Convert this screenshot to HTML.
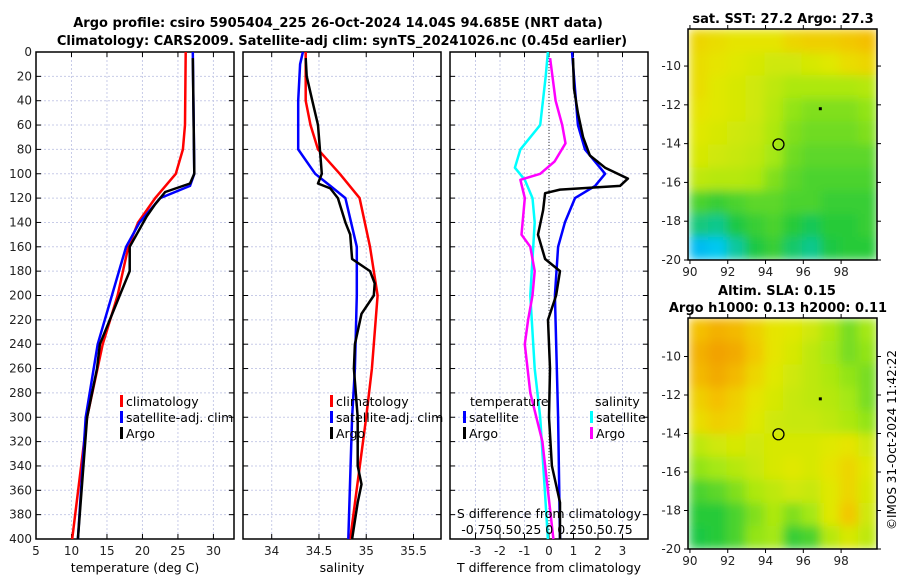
<!DOCTYPE html>
<html><head><meta charset="utf-8"><style>
html,body{margin:0;padding:0;background:#fff;}
svg{display:block;font-family:"DejaVu Sans","Liberation Sans",sans-serif;}
</style></head><body>
<svg id="c" width="900" height="580" viewBox="0 0 900 580" xmlns="http://www.w3.org/2000/svg">
<defs>
<filter id="blur" x="-5%" y="-5%" width="110%" height="110%"><feGaussianBlur stdDeviation="5" edgeMode="duplicate"/></filter>
<clipPath id="clip1"><rect x="688" y="29" width="189" height="231"/></clipPath>
<clipPath id="clip2"><rect x="688" y="318" width="189" height="231"/></clipPath>
</defs>
<text x="338" y="27" text-anchor="middle" font-size="13" font-weight="bold">Argo profile: csiro 5905404_225 26-Oct-2024 14.04S 94.685E (NRT data)</text>
<text x="342" y="45" text-anchor="middle" font-size="13" font-weight="bold">Climatology: CARS2009. Satellite-adj clim: synTS_20241026.nc (0.45d earlier)</text>
<text x="783" y="23" text-anchor="middle" font-size="13" font-weight="bold">sat. SST: 27.2 Argo: 27.3</text>
<text x="777" y="295" text-anchor="middle" font-size="13" font-weight="bold">Altim. SLA: 0.15</text>
<text x="778" y="312" text-anchor="middle" font-size="13" font-weight="bold">Argo h1000: 0.13 h2000: 0.11</text>
<text transform="translate(896,440) rotate(-90)" text-anchor="middle" font-size="12">©IMOS 31-Oct-2024 11:42:22</text>
<g id="g"></g>
</svg>
<script>
// ---------- data ----------
const depthTicks=[0,20,40,60,80,100,120,140,160,180,200,220,240,260,280,300,320,340,360,380,400];
const tTicks=[5,10,15,20,25,30];
const sTicks=[34,34.5,35,35.5];
const dTicks=[-3,-2,-1,0,1,2,3];
const climTdepth=[0,60,80,100,120,140,160,200,240,300,400];
const climT=[26.1,26.0,25.7,24.7,21.8,19.4,18.0,16.5,14.4,12.2,10.1];
const satTdepth=[0,100,110,120,140,160,200,240,300,400];
const satT=[27.1,27.3,26.7,22.5,19.6,17.7,15.7,13.7,12.0,10.9];
const argoTdepth=[5,100,108,115,125,135,160,180,200,240,260,300,400];
const argoT=[27.1,27.3,26.7,23.2,21.8,20.6,18.2,18.2,16.8,14.0,13.6,12.2,10.9];
const climSdepth=[0,40,60,80,100,120,160,200,260,300,400];
const climS=[34.36,34.36,34.41,34.49,34.72,34.93,35.04,35.12,35.06,35.00,34.83];
const satSdepth=[0,10,40,80,100,110,120,160,200,260,300,400];
const satS=[34.33,34.30,34.28,34.28,34.46,34.62,34.78,34.90,34.90,34.88,34.85,34.81];
const argoSdepth=[5,20,40,60,80,100,108,112,120,140,150,170,180,190,200,215,240,260,300,340,355,370,400];
const argoS=[34.36,34.37,34.43,34.49,34.51,34.53,34.49,34.62,34.70,34.78,34.83,34.85,35.04,35.09,35.08,34.95,34.88,34.87,34.91,34.91,34.95,34.91,34.85];
const satdTdepth=[0,60,80,100,110,120,140,160,200,300,400];
const satdT=[0.94,1.18,1.47,2.29,1.88,1.06,0.65,0.37,0.24,0.37,0.45];
const argodTdepth=[5,30,50,70,85,95,104,110,113,116,130,150,170,180,200,220,260,300,340,370,400];
const argodT=[0.98,1.02,1.18,1.39,1.67,2.29,3.22,2.9,0.45,-0.16,-0.24,-0.45,-0.16,0.45,0.29,-0.04,0.04,0,0.12,0.45,0.45];
const satdSdepth=[0,20,60,80,95,105,120,140,200,260,300,400];
const satdS=[-0.01,-0.03,-0.08,-0.26,-0.31,-0.22,-0.15,-0.13,-0.17,-0.13,-0.08,-0.01];
const argodSdepth=[5,40,60,75,90,100,105,120,150,160,180,200,220,240,280,320,360,400];
const argodS=[0.01,0.06,0.12,0.15,0.05,-0.08,-0.26,-0.22,-0.25,-0.17,-0.13,-0.15,-0.19,-0.22,-0.17,-0.06,-0.01,0.04];
const lonTicks=[90,92,94,96,98];
const lat1Ticks=[-10,-12,-14,-16,-18,-20];
const sstGrid=[
[.80,.78,.76,.76,.76,.80,.82,.82,.84,.86],
[.78,.76,.74,.72,.70,.70,.72,.74,.78,.80],
[.78,.74,.72,.70,.66,.62,.62,.62,.62,.64],
[.76,.74,.72,.70,.64,.58,.56,.56,.56,.58],
[.74,.72,.70,.68,.62,.56,.54,.54,.54,.56],
[.72,.70,.68,.66,.60,.54,.52,.52,.52,.52],
[.66,.64,.64,.62,.56,.52,.50,.50,.50,.50],
[.50,.48,.50,.52,.52,.50,.50,.48,.48,.48],
[.38,.36,.44,.48,.50,.46,.42,.46,.46,.48],
[.22,.25,.34,.44,.48,.40,.36,.44,.46,.46]];
const slaGrid=[
[.86,.90,.88,.82,.76,.74,.70,.62,.55,.60],
[.90,.94,.92,.84,.76,.72,.66,.60,.55,.58],
[.88,.92,.88,.80,.74,.70,.66,.62,.58,.55],
[.82,.86,.82,.76,.72,.68,.66,.64,.60,.55],
[.78,.82,.80,.74,.70,.68,.68,.66,.62,.58],
[.66,.70,.72,.70,.72,.72,.72,.74,.76,.70],
[.58,.60,.64,.68,.72,.74,.72,.76,.80,.74],
[.50,.52,.56,.62,.66,.70,.68,.74,.80,.72],
[.46,.46,.50,.56,.62,.56,.60,.74,.84,.70],
[.44,.46,.50,.58,.60,.48,.50,.64,.72,.66]];
const floatPos=[94.685,-14.04];
const otherPos=[96.9,-12.2];

// ---------- helpers ----------
const NS='http://www.w3.org/2000/svg';
const G=document.getElementById('g');
function mk(tag,attrs,parent){const e=document.createElementNS(NS,tag);for(const k in attrs)e.setAttribute(k,attrs[k]);(parent||G).appendChild(e);return e;}
const Y0=52,Y1=539;
const yD=d=>Y0+(d/400)*(Y1-Y0);
function lin(d0,d1,p0,p1){return v=>p0+(v-d0)/(d1-d0)*(p1-p0);}

function panel(name,x0,x1,xs,ticks,fmt,showY){
  const g=mk('g',{});
  
  
  ticks.forEach(t=>{const x=xs(t);
    const l=mk('line',{x1:x,x2:x,y1:Y0,y2:Y1,stroke:'#c8cce8','stroke-width':1,'stroke-dasharray':'2,2'},g);
    
    mk('line',{x1:x,x2:x,y1:Y1,y2:Y1-5,stroke:'#000'},g);
    mk('line',{x1:x,x2:x,y1:Y0,y2:Y0+5,stroke:'#000'},g);
    const tx=mk('text',{x:x,y:555,'text-anchor':'middle','font-size':12,fill:'#222'},g);tx.textContent=fmt(t);
    
  });
  depthTicks.forEach(d=>{const y=yD(d);
    if(d>0&&d<400){const l=mk('line',{x1:x0,x2:x1,y1:y,y2:y,stroke:'#c8cce8','stroke-width':1,'stroke-dasharray':'2,2'},g);
      }
    mk('line',{x1:x0,x2:x0+5,y1:y,y2:y,stroke:'#000'},g);
    mk('line',{x1:x1,x2:x1-5,y1:y,y2:y,stroke:'#000'},g);
    if(showY){const tx=mk('text',{x:x0-4,y:y+4,'text-anchor':'end','font-size':12,fill:'#222'},g);tx.textContent=d;
      }
  });
  const f=mk('rect',{x:x0,y:Y0,width:x1-x0,height:Y1-Y0,fill:'none',stroke:'#000','stroke-width':1.5},g);
  
  return g;
}
function series(g,name,vals,deps,xs,color){
  const pts=vals.map((v,i)=>xs(v).toFixed(1)+','+yD(deps[i]).toFixed(1)).join(' ');
  const p=mk('polyline',{points:pts,fill:'none',stroke:color,'stroke-width':2.5,'stroke-linejoin':'round'},g);
  
  
}
function legend(g,x,y,items){
  items.forEach((it,i)=>{
    const r=mk('rect',{x:x,y:y+i*16-11,width:3,height:12,fill:it[1]},g);
    
    const t=mk('text',{x:x+6,y:y+i*16,'font-size':12.5},g);t.textContent=it[0];
    
  });
}

// ---------- panel 1: temperature ----------
const xT=lin(5,32.9,36,234);
const p1=panel('temperature-panel',36,234,xT,tTicks,t=>t,true);
series(p1,'climatology-temperature-line',climT,climTdepth,xT,'#ff0000');
series(p1,'satellite-temperature-line',satT,satTdepth,xT,'#0000ff');
series(p1,'argo-temperature-line',argoT,argoTdepth,xT,'#000000');
legend(p1,120,406,[['climatology','#ff0000'],['satellite-adj. clim','#0000ff'],['Argo','#000']]);
let t1=mk('text',{x:135,y:572,'text-anchor':'middle','font-size':12.5},p1);t1.textContent='temperature (deg C)';


// ---------- panel 2: salinity ----------
const xS=lin(34,35.5,271.7,413.5);
const p2=panel('salinity-panel',243,441,xS,sTicks,t=>t,false);
series(p2,'climatology-salinity-line',climS,climSdepth,xS,'#ff0000');
series(p2,'satellite-salinity-line',satS,satSdepth,xS,'#0000ff');
series(p2,'argo-salinity-line',argoS,argoSdepth,xS,'#000000');
legend(p2,330,406,[['climatology','#ff0000'],['satellite-adj. clim','#0000ff'],['Argo','#000']]);
let t2=mk('text',{x:342,y:572,'text-anchor':'middle','font-size':12.5},p2);t2.textContent='salinity';


// ---------- panel 3: differences ----------
const xdT=lin(0,3,549,622.5);
const xdS=lin(0,0.75,549,631.5);
const p3=panel('difference-panel',450,648,xdT,dTicks,t=>t,false);
mk('line',{x1:xdT(0),x2:xdT(0),y1:Y0,y2:Y1,stroke:'#333','stroke-width':1,'stroke-dasharray':'1,2'},p3);
series(p3,'satellite-salinity-diff-line',satdS,satdSdepth,xdS,'#00ffff');
series(p3,'argo-salinity-diff-line',argodS,argodSdepth,xdS,'#ff00ff');
series(p3,'satellite-temperature-diff-line',satdT,satdTdepth,xdT,'#0000ff');
series(p3,'argo-temperature-diff-line',argodT,argodTdepth,xdT,'#000000');
let tt=mk('text',{x:470,y:406,'font-size':12.5},p3);tt.textContent='temperature';

let ts=mk('text',{x:595,y:406,'font-size':12.5},p3);ts.textContent='salinity';

legend(p3,463,422,[['satellite','#0000ff'],['Argo','#000']]);
legend(p3,590,422,[['satellite','#00ffff'],['Argo','#ff00ff']]);
let sd=mk('text',{x:549,y:518,'text-anchor':'middle','font-size':12.5},p3);sd.textContent='S difference from climatology';

let sl=mk('text',{x:547,y:534,'text-anchor':'middle','font-size':12.5},p3);sl.textContent='-0.750.50.25 0 0.250.50.75';

let t3=mk('text',{x:549,y:572,'text-anchor':'middle','font-size':12.5},p3);t3.textContent='T difference from climatology';


// ---------- maps ----------
const cstops=[[0,[0,90,255]],[0.25,[0,200,240]],[0.45,[30,200,60]],[0.6,[165,232,20]],[0.75,[228,232,0]],[0.85,[244,196,0]],[1,[240,140,0]]];
function cmap(v){for(let i=1;i<cstops.length;i++){if(v<=cstops[i][0]){const a=cstops[i-1],b=cstops[i];const f=(v-a[0])/(b[0]-a[0]);
  return 'rgb('+a[1].map((c,k)=>Math.round(c+(b[1][k]-c)*f)).join(',')+')';}}return 'rgb(240,140,0)';}
function map(name,grid,top,bot,latTop,clip){
  const g=mk('g',{});
  
  
  const xl=lin(89.95,99.9,689,877), yl=lin(latTop,-20,top,bot);
  const cg=mk('g',{'clip-path':'url(#'+clip+')'},g);
  const bg=mk('g',{filter:'url(#blur)'},cg);
  const nr=grid.length,nc=grid[0].length;
  const lonStep=(99.9-89.95)/nc, latStep=(latTop+20)/nr;
  grid.forEach((row,r)=>row.forEach((v,c)=>{
    const xa=xl(89.95+c*lonStep),xb=xl(89.95+(c+1)*lonStep),ya=yl(latTop-r*latStep),yb=yl(latTop-(r+1)*latStep);
    const cell=mk('rect',{x:xa,y:ya,width:xb-xa+0.5,height:yb-ya+0.5,fill:cmap(v)},bg);
    
    
  }));
  mk('rect',{x:688,y:top,width:189,height:bot-top,fill:'none',stroke:'#000','stroke-width':1.5},g);
  lonTicks.forEach(t=>{const x=xl(t);
    mk('line',{x1:x,x2:x,y1:bot,y2:bot+4,stroke:'#000'},g);
    mk('line',{x1:x,x2:x,y1:top,y2:top-4,stroke:'#000'},g);
    const tx=mk('text',{x:x,y:bot+16,'text-anchor':'middle','font-size':12,fill:'#222'},g);tx.textContent=t;
    });
  lat1Ticks.forEach(t=>{const y=yl(t);
    mk('line',{x1:688,x2:684,y1:y,y2:y,stroke:'#000'},g);
    mk('line',{x1:877,x2:881,y1:y,y2:y,stroke:'#000'},g);
    const tx=mk('text',{x:681,y:y+4,'text-anchor':'end','font-size':12,fill:'#222'},g);tx.textContent=t;
    });
  const c=mk('circle',{cx:xl(floatPos[0]),cy:yl(floatPos[1]),r:5.5,fill:'none',stroke:'#000','stroke-width':1.3},g);
  
  const d=mk('rect',{x:xl(otherPos[0])-1.5,y:yl(otherPos[1])-1.5,width:3,height:3,fill:'#000'},g);
  
}
map('sst-map',sstGrid,29,260,-8.09,'clip1');
map('sla-map',slaGrid,318,549,-8.0,'clip2');
</script>
</body></html>
